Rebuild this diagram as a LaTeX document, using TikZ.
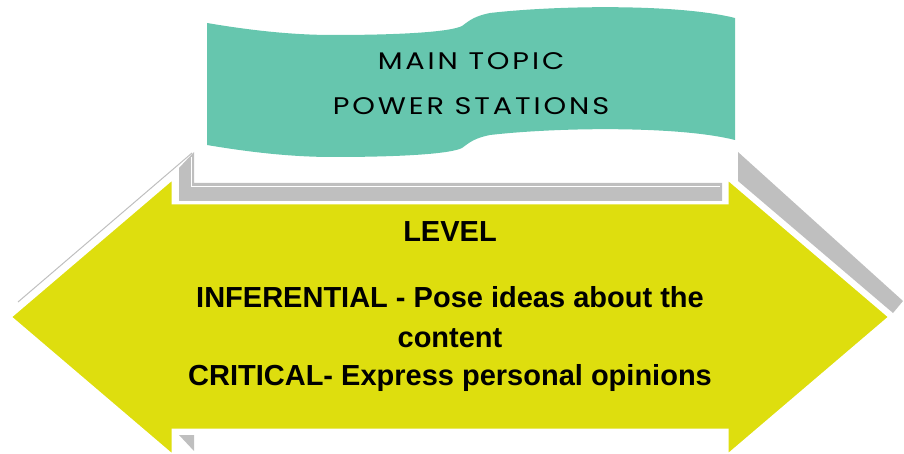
\documentclass[tikz,border=0pt]{standalone}
\usepackage{fontspec}
\setmainfont{Liberation Sans}
\newfontfamily\topicfont[LetterSpace=10]{Poppins}
\definecolor{bannerteal}{RGB}{102,198,174}
\definecolor{arrowyellow}{RGB}{222,222,14}
\definecolor{bevelgray}{RGB}{191,191,191}
\newcommand{\topictext}[1]{\scalebox{1.2}[1]{#1}}
\begin{document}
\begin{tikzpicture}[x=1pt,y=-1pt,
	bevel/.style={fill=bevelgray},
	topic/.style={anchor=base,inner sep=0pt,font=\topicfont\fontsize{24}{24}\selectfont},
	level/.style={anchor=base,inner sep=0pt,font=\bfseries\fontsize{29}{29}\selectfont}]
	\useasboundingbox (0,0) rectangle (904,454);
	\fill [bannerteal] (207,23) .. controls (260,32) and (300,35) .. (333,35)
		.. controls (400,35) and (450,32) .. (462,26)
		.. controls (470,20) and (475,16) .. (490,13)
		.. controls (560,5) and (680,4) .. (735,18)
		-- (735,140) .. controls (680,126) and (560,127) .. (490,135)
		.. controls (475,138) and (470,142) .. (462,148)
		.. controls (450,154) and (400,157) .. (333,157)
		.. controls (300,157) and (260,154) .. (207,145) -- cycle;
	\draw [bevelgray, line width=1pt] (18,302) -- (192,153);
	\fill [bevel] (179,201) -- (179,168) -- (194,152) -- (194,183) -- (722,183) -- (722,201) -- cycle;
	\draw [white, line width=0.6pt] (191,157) -- (191,186) -- (720,186);
	\fill [bevel] (738,152) -- (903,301) -- (893,313) -- (738,181) -- cycle;
	\fill [bevel] (179,435) -- (194,435) -- (194,451) -- cycle;
	\fill [arrowyellow, draw=white, line width=3pt] (10,317) -- (173,178) -- (173,203) -- (727,203) -- (727,178)
		-- (890,317) -- (727,456) -- (727,430) -- (173,430) -- (173,456) -- cycle;
	\node [topic] (maintopic) at (471,70) {\topictext{MAIN TOPIC}};
	\node [topic] (stations) at (471,115) {\topictext{POWER STATIONS}};
	\node [level] (levelname) at (450,241) {LEVEL};
	\node [level] (inferential) at (450,307) {INFERENTIAL - Pose ideas about the};
	\node [level] (content) at (450,347) {content};
	\node [level] (critical) at (450,385) {CRITICAL- Express personal opinions};
\end{tikzpicture}
\end{document}
